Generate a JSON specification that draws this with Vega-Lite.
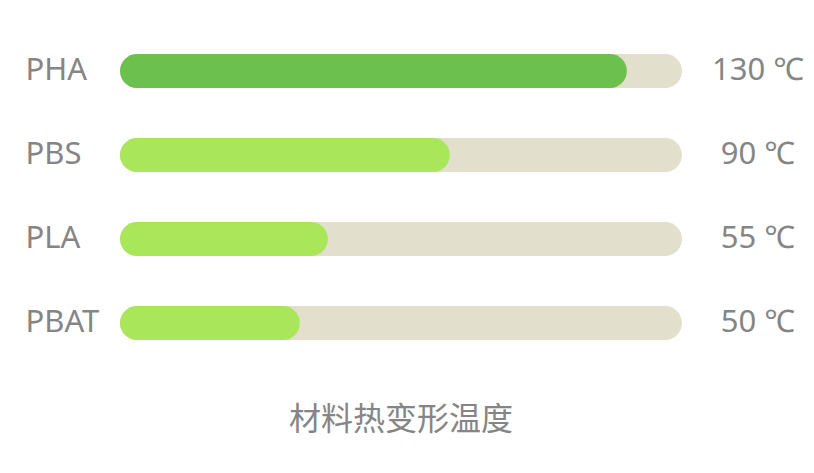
{
  "$schema": "https://vega.github.io/schema/vega-lite/v6.json",
  "width": 562,
  "height": 336,
  "padding": {"left": 25, "top": 29, "right": 5, "bottom": 20},
  "background": "white",
  "title": {
    "text": "材料热变形温度",
    "orient": "bottom",
    "anchor": "middle",
    "frame": "group",
    "offset": 40,
    "fontSize": 32,
    "fontWeight": "normal",
    "color": "#858585",
    "font": "Noto Sans CJK SC"
  },
  "data": {
    "values": [
      {"material": "PHA", "temp": 130, "fill": 90.2, "track": 100},
      {"material": "PBS", "temp": 90, "fill": 58.7, "track": 100},
      {"material": "PLA", "temp": 55, "fill": 37, "track": 100},
      {"material": "PBAT", "temp": 50, "fill": 32, "track": 100}
    ]
  },
  "transform": [
    {"calculate": "datum.temp + ' ℃'", "as": "label"}
  ],
  "encoding": {
    "y": {
      "field": "material",
      "type": "nominal",
      "sort": null,
      "scale": {"paddingInner": 0, "paddingOuter": 0},
      "axis": {
        "title": null,
        "domain": false,
        "ticks": false,
        "labelAlign": "left",
        "labelPadding": 95,
        "labelFontSize": 31,
        "labelColor": "#858585",
        "labelFont": "Noto Sans"
      }
    }
  },
  "layer": [
    {
      "mark": {"type": "bar", "height": 34, "cornerRadius": 17, "color": "#e2dfcd"},
      "encoding": {
        "x": {
          "field": "track",
          "type": "quantitative",
          "scale": {"domain": [0, 100], "nice": false},
          "axis": null
        }
      }
    },
    {
      "mark": {"type": "bar", "height": 34, "cornerRadius": 17},
      "encoding": {
        "x": {"field": "fill", "type": "quantitative"},
        "color": {
          "condition": {"test": "datum.material === 'PHA'", "value": "#6cc04e"},
          "value": "#a9e65a"
        }
      }
    },
    {
      "mark": {
        "type": "text",
        "align": "center",
        "baseline": "middle",
        "dx": 76,
        "fontSize": 31,
        "color": "#858585",
        "font": "Noto Sans"
      },
      "encoding": {
        "x": {"field": "track", "type": "quantitative"},
        "text": {"field": "label"}
      }
    }
  ],
  "config": {
    "view": {"stroke": null},
    "axis": {"grid": false}
  }
}
